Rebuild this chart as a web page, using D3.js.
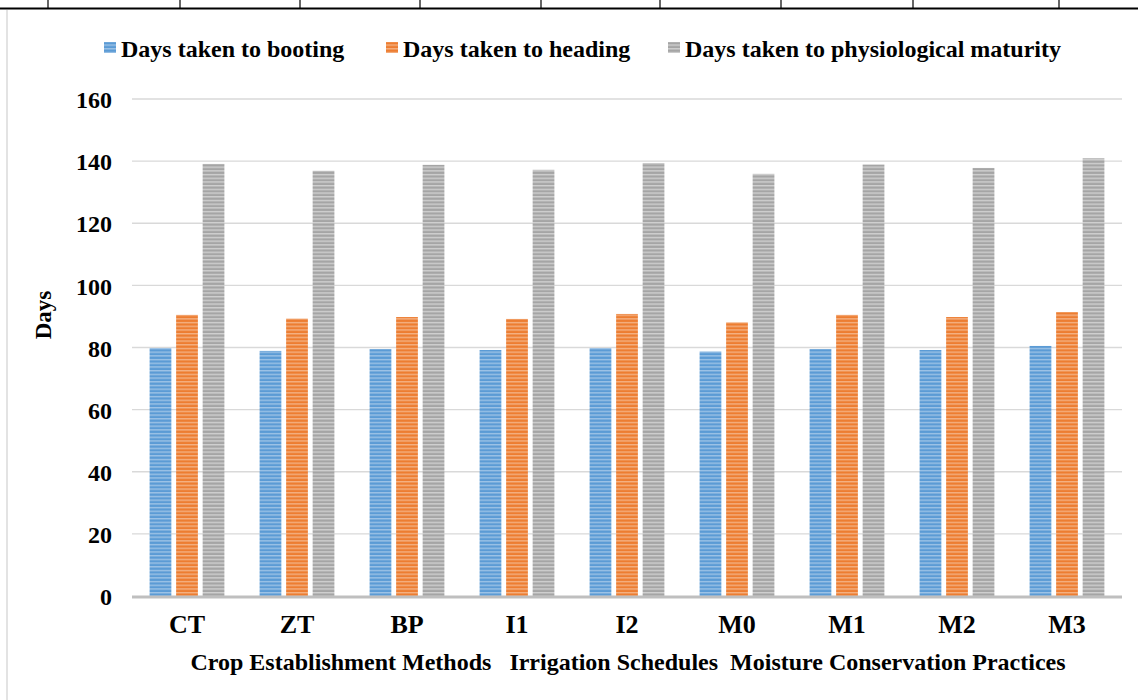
<!DOCTYPE html>
<html><head><meta charset="utf-8">
<script src="https://cdn.jsdelivr.net/npm/d3@7"></script>
<style>body{margin:0;background:#fff;}svg{display:block;font-family:"Liberation Serif","Times New Roman",serif;font-weight:bold;}</style>
</head><body>
<svg id="c" width="1138" height="700"></svg>
<script>
const categories = ["CT","ZT","BP","I1","I2","M0","M1","M2","M3"];
const seriesNames = ["Days taken to booting","Days taken to heading","Days taken to physiological maturity"];
const booting  = [79.8, 78.9, 79.5, 79.2, 79.8, 78.7, 79.5, 79.2, 80.5];
const heading  = [90.5, 89.3, 89.8, 89.2, 90.8, 88.1, 90.5, 89.8, 91.4];
const maturity = [139.1,136.9,138.8,137.2,139.4,135.9,138.9,137.8,140.9];
const yTicks = [0,20,40,60,80,100,120,140,160];
const xTitle = "Crop Establishment Methods   Irrigation Schedules  Moisture Conservation Practices";
const yTitle = "Days";

(function(){
const colors = ["#5B9BD5","#ED7D31","#A5A5A5"];
const lightColors = ["#9DC3E6","#F4B183","#D0D0D0"];
const series = [booting, heading, maturity];

const svg = d3.select("#c");
const defs = svg.append("defs");
colors.forEach((c,i)=>{
  const p = defs.append("pattern").attr("id","pat"+i).attr("patternUnits","userSpaceOnUse")
    .attr("width",8).attr("height",3.7);
  p.append("rect").attr("width",8).attr("height",3.7).attr("fill",c);
  p.append("rect").attr("y",0).attr("width",8).attr("height",1.4).attr("fill",lightColors[i]);
});

// table frame remnants at top
const vlines = [48,180,300,420,541,660,781,913,1059];
svg.selectAll(".vl").data(vlines).enter().append("line")
  .attr("x1",d=>d).attr("x2",d=>d).attr("y1",0).attr("y2",8)
  .attr("stroke","#000").attr("stroke-width",1.2);
svg.append("line").attr("x1",0).attr("x2",1138).attr("y1",8.5).attr("y2",8.5).attr("stroke","#000").attr("stroke-width",2);
svg.append("line").attr("x1",7).attr("x2",7).attr("y1",10).attr("y2",700).attr("stroke","#d0d0d0").attr("stroke-width",1.2);

const pl = 132, pr = 1122, pt = 99, pb = 596;
const x = d3.scaleBand().domain(categories).range([pl,pr]).paddingInner(0.32).paddingOuter(0.16);
const xs = d3.scaleBand().domain([0,1,2]).range([0,x.bandwidth()]).paddingInner(0.18);
const y = d3.scaleLinear().domain([0,160]).range([pb,pt]);

// gridlines
svg.append("g").selectAll("line").data(yTicks.filter(t=>t>0)).enter().append("line")
  .attr("x1",pl).attr("x2",pr).attr("y1",d=>y(d)).attr("y2",d=>y(d))
  .attr("stroke","#d9d9d9").attr("stroke-width",1.3);

// y axis labels
const yAxis = d3.axisLeft(y).tickValues(yTicks).tickSize(0).tickPadding(0).tickFormat(d3.format("d"));
const ga = svg.append("g").attr("transform",`translate(112,1)`).call(yAxis);
ga.select(".domain").remove();
ga.selectAll("text").attr("font-size",24).attr("font-weight","bold").attr("fill","#000")
  .attr("font-family","Liberation Serif");

// bars
series.forEach((vals,si)=>{
  svg.append("g").selectAll("rect").data(vals).enter().append("rect")
    .attr("x",(d,i)=>x(categories[i])+xs(si))
    .attr("width",xs.bandwidth())
    .attr("y",d=>y(d))
    .attr("height",d=>pb-y(d))
    .attr("fill",`url(#pat${si})`);
});

// x axis line
svg.append("line").attr("x1",pl).attr("x2",pr).attr("y1",pb+1).attr("y2",pb+1)
  .attr("stroke","#bfbfbf").attr("stroke-width",3);

const xAxis = d3.axisBottom(x).tickSize(0).tickPadding(0);
const gx = svg.append("g").attr("transform",`translate(0,${pb+15})`).call(xAxis);
gx.select(".domain").remove();
gx.selectAll("text").attr("font-size",26).attr("font-weight","bold").attr("fill","#000")
  .attr("font-family","Liberation Serif").attr("dy","0.85em");

// x title
svg.append("text").attr("x",628).attr("y",670).attr("text-anchor","middle")
  .attr("font-size",24).attr("fill","#000").style("white-space","pre").text(xTitle);

// y title
svg.append("text").attr("transform","translate(51,315) rotate(-90)").attr("text-anchor","middle")
  .attr("font-size",23).attr("fill","#000").text(yTitle);

// legend
const legX = [104,386,668];
seriesNames.forEach((n,i)=>{
  svg.append("rect").attr("x",legX[i]).attr("y",42).attr("width",12).attr("height",11).attr("fill",`url(#pat${i})`);
  svg.append("text").attr("x",legX[i]+17).attr("y",57).attr("font-size",24).attr("fill","#000").text(n);
});
})();
</script>
</body></html>
